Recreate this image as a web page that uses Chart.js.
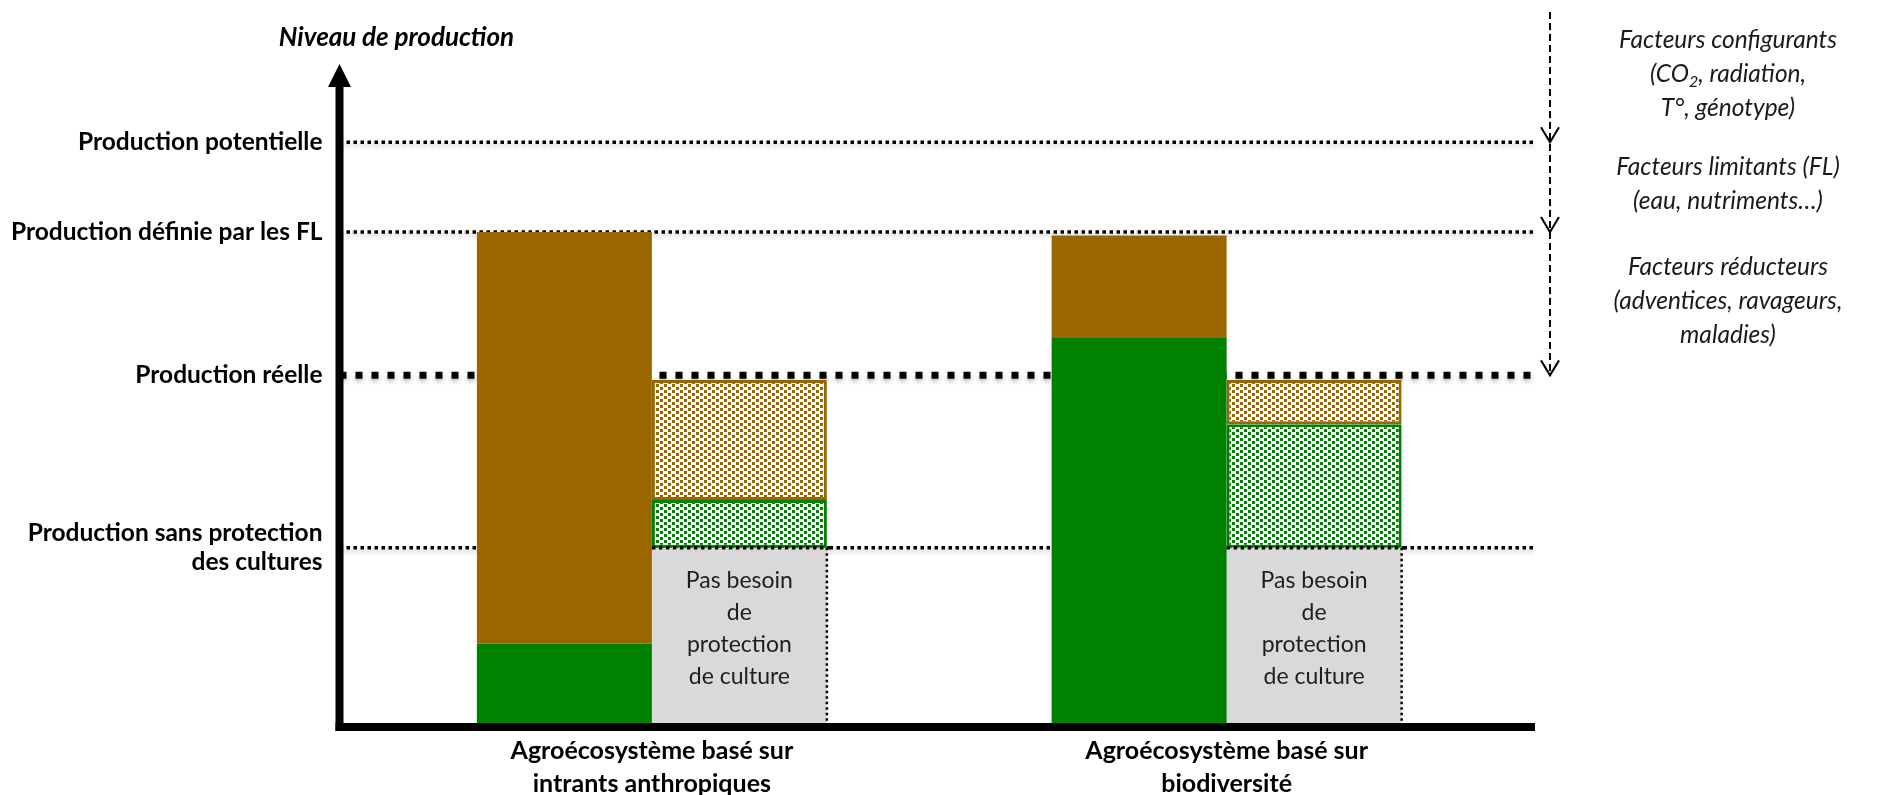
<!DOCTYPE html>
<html>
<head>
<meta charset="utf-8">
<script src="https://cdn.jsdelivr.net/npm/chart.js@4.4.0/dist/chart.umd.min.js"></script>
<style>
  html, body { margin: 0; padding: 0; background: #fff; }
</style>
</head>
<body>
<canvas id="chart" width="1881" height="795"></canvas>
<script>
// niveaux de production (0 = axe horizontal, 100 = production potentielle)
const levelValues = [100, 84.6, 60, 30.4];
const levelLabels = [
  'Production potentielle',
  'Production définie par les FL',
  'Production réelle',
  ['Production sans protection', 'des cultures']
];

const categories = [
  ['Agroécosystème basé sur', 'intrants anthropiques'],
  ['Agroécosystème basé sur', 'biodiversité']
];

// barres pleines [bas, haut]
const solidGreen = [[0, 14], [0, 66.4]];
const solidBrown = [[14, 84.6], [66.4, 84]];
// barres pointillées [bas, haut]
const greyBase = [[0, 30.4], [0, 30.4]];
const hatchGreen = [[30.4, 38.6], [30.4, 51.6]];
const hatchBrown = [[38.6, 59.2], [51.6, 59.2]];

const greyText = ['Pas besoin', 'de', 'protection', 'de culture'];
const sideNotes = [
  ['Facteurs configurants', '(CO_2, radiation,', 'T°, génotype)'],
  ['Facteurs limitants (FL)', '(eau, nutriments…)'],
  ['Facteurs réducteurs', '(adventices, ravageurs,', 'maladies)']
];

const BROWN = '#996600';
const GREEN = '#008000';
const GREY = '#d9d9d9';
const FONT = 'Lato';

// motif de petits carrés
function dotPattern(color) {
  const c = document.createElement('canvas');
  c.width = 8; c.height = 6;
  const g = c.getContext('2d');
  g.fillStyle = '#fff';
  g.fillRect(0, 0, 8, 6);
  g.fillStyle = color;
  g.fillRect(0, 0, 3, 3);
  g.fillRect(4, 3, 3, 3);
  return g.createPattern(c, 'repeat');
}

function noteLine(c, line, cx, cy, size) {
  const parts = line.split(/(_\d)/).filter(p => p);
  const fMain = 'italic ' + size + 'px ' + FONT;
  const fSub = 'italic ' + Math.round(size * 0.65) + 'px ' + FONT;
  let w = 0;
  parts.forEach(p => {
    c.font = p[0] === '_' ? fSub : fMain;
    w += c.measureText(p[0] === '_' ? p.slice(1) : p).width;
  });
  let x = cx - w / 2;
  c.textAlign = 'left';
  c.textBaseline = 'middle';
  parts.forEach(p => {
    const sub = p[0] === '_';
    const t = sub ? p.slice(1) : p;
    c.font = sub ? fSub : fMain;
    c.fillText(t, x, sub ? cy + size * 0.3 : cy);
    x += c.measureText(t).width;
  });
}

const axisOverhang = 25;

const schemaPlugin = {
  id: 'schema',
  beforeDatasetsDraw(chart) {
    const c = chart.ctx;
    const a = chart.chartArea;
    const y = chart.scales.y;
    const x0 = a.left - axisOverhang;
    const x1 = a.right + 21;
    c.save();
    c.strokeStyle = '#000';
    c.shadowColor = 'rgba(0,0,0,0.25)';
    c.shadowBlur = 4;
    c.shadowOffsetY = 3;
    levelValues.forEach((v, i) => {
      const py = y.getPixelForValue(v);
      if (i === 2) { c.lineWidth = 7; c.setLineDash([7, 9]); }
      else { c.lineWidth = 3.5; c.setLineDash([3.5, 3.5]); }
      c.beginPath();
      c.moveTo(x0, py);
      c.lineTo(x1, py);
      c.stroke();
    });
    c.restore();
  },
  afterDatasetsDraw(chart) {
    const c = chart.ctx;
    const a = chart.chartArea;
    const y = chart.scales.y;
    const axisX = a.left - axisOverhang;
    const xEnd = a.right + 21;

    // boîtes grises : texte + bords pointillés
    const greyMeta = chart.getDatasetMeta(2);
    greyMeta.data.forEach(el => {
      const top = el.y, bot = el.base, right = el.x + el.width / 2, left = el.x - el.width / 2;
      c.save();
      c.fillStyle = '#1e1e1e';
      c.font = '23px ' + FONT;
      c.textAlign = 'center';
      c.textBaseline = 'middle';
      const mid = (top + bot) / 2 - 8;
      greyText.forEach((t, i) => {
        c.fillText(t, el.x, mid + (i - (greyText.length - 1) / 2) * 32);
      });
      c.strokeStyle = '#000';
      c.lineWidth = 2.5;
      c.setLineDash([2.5, 3]);
      c.beginPath();
      c.moveTo(right, top);
      c.lineTo(right, bot);
      c.stroke();
      c.lineWidth = 3.5;
      c.setLineDash([3.5, 3.5]);
      c.beginPath();
      c.moveTo(left, top);
      c.lineTo(right + 4, top);
      c.stroke();
      c.restore();
    });

    // axes
    c.save();
    c.strokeStyle = '#000';
    c.fillStyle = '#000';
    c.lineWidth = 8;
    c.beginPath();
    c.moveTo(axisX, a.bottom + 6);
    c.lineTo(axisX, a.top + 2);
    c.stroke();
    c.beginPath();
    c.moveTo(axisX - 11.5, a.top + 3);
    c.lineTo(axisX, a.top - 20);
    c.lineTo(axisX + 11.5, a.top + 3);
    c.closePath();
    c.fill();
    c.beginPath();
    c.moveTo(axisX - 4, a.bottom + 2);
    c.lineTo(xEnd, a.bottom + 2);
    c.stroke();

    // titre de l'axe
    c.font = 'italic bold 26px ' + FONT;
    c.textAlign = 'center';
    c.textBaseline = 'middle';
    c.fillText('Niveau de production', axisX + 57, a.top - 46);

    // flèche pointillée à droite
    const arrowX = a.right + 36;
    const tips = levelValues.slice(0, 3).map(v => y.getPixelForValue(v));
    const topY = 12;
    c.lineWidth = 2;
    c.setLineDash([7, 4]);
    c.beginPath();
    c.moveTo(arrowX, topY);
    c.lineTo(arrowX, tips[2]);
    c.stroke();
    c.setLineDash([]);
    tips.forEach(t => {
      c.beginPath();
      c.moveTo(arrowX - 9, t - 15);
      c.lineTo(arrowX, t);
      c.lineTo(arrowX + 9, t - 15);
      c.stroke();
    });

    // notes
    c.fillStyle = '#1a1a1a';
    const bounds = [topY].concat(tips);
    const noteX = arrowX + 178;
    sideNotes.forEach((lines, g) => {
      const mid = (bounds[g] + bounds[g + 1]) / 2 - 3;
      lines.forEach((l, i) => {
        noteLine(c, l, noteX, mid + (i - (lines.length - 1) / 2) * 34, 24.5);
      });
    });
    c.restore();
  }
};

const ctx = document.getElementById('chart');
new Chart(ctx, {
  type: 'bar',
  data: {
    labels: categories,
    datasets: [
      { label: 'vert', data: solidGreen, backgroundColor: GREEN, stack: 'plein' },
      { label: 'brun', data: solidBrown, backgroundColor: BROWN, stack: 'plein' },
      { label: 'gris', data: greyBase, backgroundColor: GREY, stack: 'pointille' },
      { label: 'brun pointillé', data: hatchBrown, backgroundColor: dotPattern(BROWN), borderColor: BROWN, borderWidth: 3, borderSkipped: false, stack: 'pointille' },
      { label: 'vert pointillé', data: hatchGreen, backgroundColor: dotPattern(GREEN), borderColor: GREEN, borderWidth: 3, borderSkipped: false, stack: 'pointille' }
    ]
  },
  options: {
    responsive: false,
    animation: false,
    devicePixelRatio: 1,
    categoryPercentage: 0.609,
    barPercentage: 1,
    layout: { padding: { top: 84, right: 367, bottom: 0, left: 0 } },
    plugins: {
      legend: { display: false },
      tooltip: { enabled: false }
    },
    scales: {
      x: {
        stacked: true,
        offset: true,
        grid: { display: false, drawTicks: false },
        border: { display: false },
        ticks: {
          color: '#000',
          font: { family: FONT, weight: 'bold', size: 25, lineHeight: 1.3 },
          padding: 10,
          maxRotation: 0,
          autoSkip: false
        },
        afterFit(s) { s.height = 70; }
      },
      y: {
        stacked: false,
        min: 0,
        max: 110,
        grid: { display: false, drawTicks: false },
        border: { display: false },
        afterBuildTicks(s) { s.ticks = levelValues.map(v => ({ value: v })); },
        ticks: {
          color: '#000',
          font: { family: FONT, weight: 'bold', size: 24.5, lineHeight: 1.2 },
          padding: 42,
          callback: (v, i) => levelLabels[i]
        },
        afterFit(s) { s.width = 364.5; }
      }
    }
  },
  plugins: [schemaPlugin]
});
</script>
</body>
</html>
